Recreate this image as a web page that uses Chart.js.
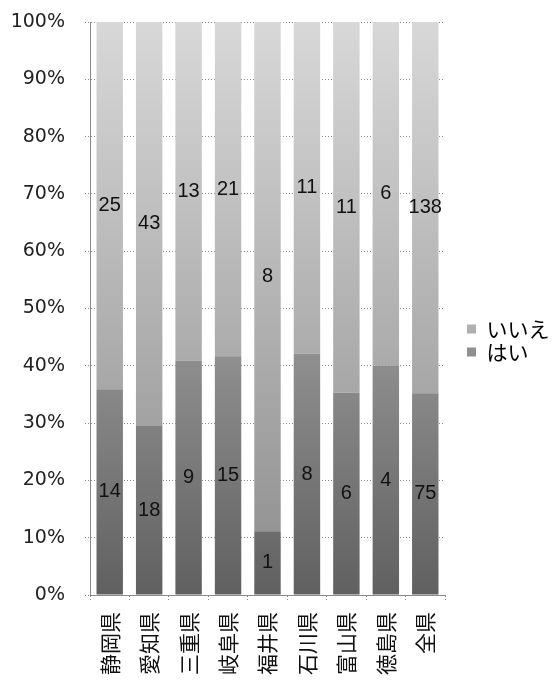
<!DOCTYPE html>
<html>
<head>
<meta charset="utf-8">
<script src="https://cdn.jsdelivr.net/npm/chart.js@4.4.0/dist/chart.umd.min.js"></script>
<style>
    html, body { margin: 0; padding: 0; background: #fff; overflow: hidden; }
    #wrap { width: 558px; height: 685px; }
</style>
</head>
<body>
<div id="wrap"><canvas id="survey-chart" width="558" height="685"></canvas></div>
<script>
const prefectures = ['静岡県', '愛知県', '三重県', '岐阜県', '福井県', '石川県', '富山県', '徳島県', '全県'];
const yesCounts = [14, 18, 9, 15, 1, 8, 6, 4, 75];
const noCounts = [25, 43, 13, 21, 8, 11, 11, 6, 138];
const yTicks = [0, 10, 20, 30, 40, 50, 60, 70, 80, 90, 100];

const cjkFont = '"Noto Sans CJK JP", "Noto Sans", sans-serif';

// share of each answer per prefecture, so every bar adds up to 100
const yesShare = yesCounts.map((v, i) => v / (v + noCounts[i]) * 100);
const noShare = noCounts.map((v, i) => v / (yesCounts[i] + v) * 100);

function grayGradient(context, bottomColor, topColor) {
    const area = context.chart.chartArea;
    if (!area) return bottomColor;
    const g = context.chart.ctx.createLinearGradient(0, area.bottom, 0, area.top);
    g.addColorStop(0, bottomColor);
    g.addColorStop(1, topColor);
    return g;
}

// count labels in the middle of each segment
const countLabels = {
    id: 'countLabels',
    afterDatasetsDraw(chart) {
        const ctx = chart.ctx;
        const counts = [yesCounts, noCounts];
        ctx.save();
        ctx.font = '20px "Liberation Sans", sans-serif';
        ctx.fillStyle = '#111';
        ctx.textAlign = 'center';
        ctx.textBaseline = 'middle';
        chart.data.datasets.forEach((ds, di) => {
            chart.getDatasetMeta(di).data.forEach((bar, i) => {
                ctx.fillText(String(counts[di][i]), bar.x, (bar.y + bar.base) / 2);
            });
        });
        ctx.restore();
    }
};

// nudge the legend a little, the original sits just below the middle
const legendShift = {
    id: 'legendShift',
    afterLayout(chart) {
        chart.legend.top -= 13;
        chart.legend.bottom -= 13;
    }
};

new Chart(document.getElementById('survey-chart').getContext('2d'), {
    type: 'bar',
    data: {
        labels: prefectures,
        datasets: [
            {
                label: 'はい',
                data: yesShare,
                backgroundColor: ctx => grayGradient(ctx, '#606060', '#d0d0d0'),
                borderWidth: 0,
                categoryPercentage: 1,
                barPercentage: 0.67
            },
            {
                label: 'いいえ',
                data: noShare,
                backgroundColor: ctx => grayGradient(ctx, '#8c8c8c', '#d8d8d8'),
                borderWidth: 0,
                categoryPercentage: 1,
                barPercentage: 0.67
            }
        ]
    },
    options: {
        responsive: false,
        animation: false,
        layout: { padding: { top: 22, right: 0, left: 0, bottom: 0 } },
        plugins: {
            tooltip: { enabled: false },
            legend: {
                position: 'right',
                reverse: true,
                labels: {
                    boxWidth: 9,
                    boxHeight: 9,
                    padding: 2,
                    color: '#000',
                    font: { family: cjkFont, size: 21 }
                }
            }
        },
        scales: {
            x: {
                stacked: true,
                grid: {
                    offset: true,
                    drawOnChartArea: false,
                    drawTicks: true,
                    tickLength: 6,
                    color: '#8a8a8a',
                    tickBorderDash: [1, 2]
                },
                border: { display: true, color: '#8a8a8a', dash: [1, 2] },
                ticks: {
                    autoSkip: false,
                    minRotation: 90,
                    maxRotation: 90,
                    padding: 11,
                    color: '#111',
                    font: { family: cjkFont, size: 21 }
                },
                afterFit: scale => { scale.height = 90; }
            },
            y: {
                stacked: true,
                min: 0,
                max: 100,
                afterBuildTicks: scale => { scale.ticks = yTicks.map(v => ({ value: v })); },
                grid: {
                    color: '#8a8a8a',
                    tickLength: 5,
                    tickBorderDash: [1, 2]
                },
                border: { display: true, color: '#8a8a8a', dash: [1, 2] },
                ticks: {
                    padding: 20,
                    color: '#222',
                    font: { family: '"DejaVu Sans", sans-serif', size: 19 },
                    callback: v => v + '%'
                },
                afterFit: scale => {
                    scale.width = 90;
                    // tick padding is only meant sideways here
                    scale.paddingTop = 0;
                    scale.paddingBottom = 0;
                }
            },
            gap: {
                type: 'linear',
                position: 'right',
                display: true,
                grid: { display: false },
                border: { display: false },
                ticks: { display: false },
                afterFit: scale => { scale.width = 20; }
            }
        }
    },
    plugins: [countLabels, legendShift]
});
</script>
</body>
</html>
